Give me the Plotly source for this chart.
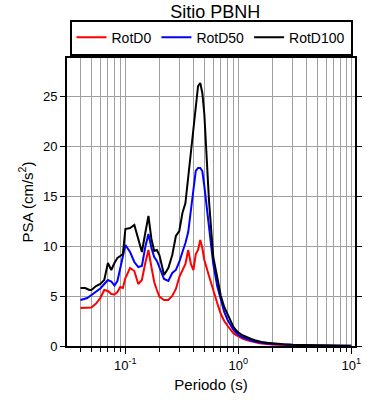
import plotly.graph_objects as go

periods = [0.04, 0.042, 0.044, 0.046, 0.048, 0.05, 0.055, 0.06, 0.065, 0.07, 0.075,
           0.08, 0.085, 0.09, 0.095, 0.1, 0.11, 0.12, 0.13, 0.14, 0.15, 0.16, 0.17,
           0.18, 0.19, 0.2, 0.22, 0.24, 0.26, 0.28, 0.3, 0.32, 0.34, 0.36, 0.38, 0.4,
           0.42, 0.44, 0.46, 0.48, 0.5, 0.55, 0.6, 0.65, 0.7, 0.75, 0.8, 0.85, 0.9,
           0.95, 1.0, 1.1, 1.2, 1.3, 1.4, 1.5, 1.6, 1.8, 2.0, 2.5, 3.0, 3.5, 4.0,
           5.0, 6.0, 7.0, 8.0, 9.0, 10.0]

rotd0 = [3.8, 3.8, 3.8, 3.8, 3.8, 3.85, 4.25, 4.8, 5.6, 5.5, 5.2,
         5.15, 5.4, 5.9, 5.8, 6.8, 7.8, 7.5, 6.2, 6.6, 8.3, 9.6, 7.9,
         6.4, 5.6, 4.95, 4.6, 4.6, 5.0, 5.7, 6.9, 7.5, 8.2, 9.6, 8.2, 7.6,
         9.2, 9.6, 10.6, 9.8, 8.6, 7.0, 5.5, 4.3, 3.2, 2.5, 2.05, 1.6, 1.3,
         1.1, 0.95, 0.72, 0.57, 0.45, 0.37, 0.31, 0.26, 0.2, 0.16, 0.11, 0.075, 0.06, 0.048,
         0.034, 0.025, 0.02, 0.016, 0.013, 0.011]

rotd50 = [4.6, 4.65, 4.7, 4.8, 4.95, 5.1, 5.45, 5.75, 6.2, 6.6, 6.45,
          6.05, 6.5, 7.7, 8.7, 10.1, 9.4, 8.4, 7.9, 8.0, 9.9, 11.2, 9.8,
          8.9, 8.5, 7.9, 6.7, 6.5, 7.3, 7.6, 8.4, 9.4, 10.3, 11.4, 13.9, 15.6,
          17.5, 17.8, 17.8, 17.5, 16.0, 12.0, 8.2, 6.0, 4.5, 3.4, 2.65, 2.15, 1.65,
          1.35, 1.12, 0.85, 0.66, 0.55, 0.46, 0.39, 0.33, 0.26, 0.21, 0.14, 0.1, 0.082, 0.062,
          0.044, 0.033, 0.026, 0.021, 0.017, 0.014]

rotd100 = [5.8, 5.8, 5.8, 5.7, 5.6, 5.6, 6.0, 6.2, 6.6, 8.3, 7.6,
           8.3, 8.8, 9.0, 9.2, 11.7, 11.8, 12.1, 10.8, 9.4, 11.3, 13.0, 10.7,
           9.5, 9.6, 9.1, 7.1, 7.8, 9.1, 11.0, 11.5, 13.3, 14.3, 17.0, 19.2, 21.4,
           23.7, 26.0, 26.3, 25.3, 23.2, 14.5, 8.9, 6.7, 5.0, 3.9, 3.15, 2.5, 1.97,
           1.6, 1.35, 1.05, 0.85, 0.7, 0.58, 0.48, 0.41, 0.32, 0.26, 0.165, 0.12, 0.095, 0.075,
           0.052, 0.04, 0.031, 0.025, 0.021, 0.017]

series = [("RotD0", rotd0, "#ff0000"), ("RotD50", rotd50, "#0000ff"), ("RotD100", rotd100, "#000000")]

x_major = [0.1, 1, 10]
x_major_text = ["10<sup>-1</sup>", "10<sup>0</sup>", "10<sup>1</sup>"]
x_minor = [0.04, 0.05, 0.06, 0.07, 0.08, 0.09, 0.2, 0.3, 0.4, 0.5, 0.6, 0.7, 0.8, 0.9,
           2, 3, 4, 5, 6, 7, 8, 9]
y_ticks = [0, 5, 10, 15, 20, 25]

FONT = "Liberation Sans, Arial, Helvetica, sans-serif"
GRID = "#a0a0a0"

fig = go.Figure()
for name, vals, col in series:
    fig.add_trace(go.Scatter(x=periods, y=vals, mode="lines", name=name,
                             line=dict(color=col, width=2)))

fig.update_layout(
    width=390, height=400,
    margin=dict(l=67, r=35, t=58, b=54, autoexpand=False),
    paper_bgcolor="white", plot_bgcolor="white",
    font=dict(family=FONT, color="black", size=12),
    title=dict(text="Sitio PBNH", x=0.552, xanchor="center", y=0.972, yanchor="middle",
               font=dict(size=18, family=FONT, color="black")),
    legend=dict(orientation="h", x=0.5, xanchor="center", y=1.008, yanchor="bottom",
                bordercolor="black", borderwidth=2, bgcolor="white",
                font=dict(size=14, family=FONT), itemwidth=30),
    showlegend=True,
)

fig.update_xaxes(
    type="log", range=[-1.517, 1.033],
    tickmode="array", tickvals=x_major, ticktext=x_major_text,
    ticks="outside", ticklen=6, tickwidth=1, tickcolor="black",
    showline=True, linecolor="black", linewidth=2, mirror="ticks",
    showgrid=True, gridcolor=GRID, gridwidth=1,
    minor=dict(tickmode="array", tickvals=x_minor, ticks="outside", ticklen=4,
               tickcolor="black", showgrid=True, gridcolor=GRID, gridwidth=1),
    tickfont=dict(size=13),
    title=dict(text="Periodo (s)", font=dict(size=15), standoff=8),
    zeroline=False, automargin=False,
)
fig.update_yaxes(
    range=[0, 28.8], tickmode="array", tickvals=y_ticks,
    ticks="outside", ticklen=5, tickwidth=1, tickcolor="black",
    showline=True, linecolor="black", linewidth=2, mirror="ticks",
    showgrid=True, gridcolor=GRID, gridwidth=1,
    tickfont=dict(size=13),
    title=dict(text="PSA (cm/s<sup>2</sup>)", font=dict(size=15), standoff=6),
    zeroline=False, automargin=False,
)

fig.write_html("out.html", config={"displayModeBar": False},
               post_script="document.body.style.margin='0px';")
